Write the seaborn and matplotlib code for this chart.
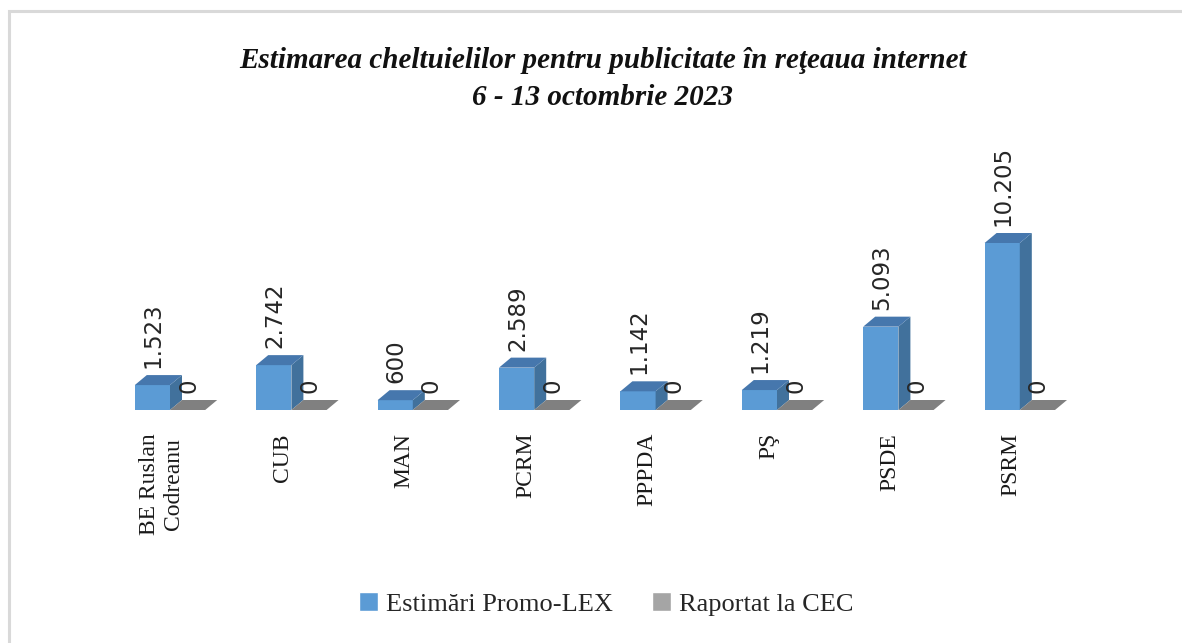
import pandas as pd
import matplotlib.pyplot as plt
from matplotlib.patches import Polygon, Rectangle, Patch
import seaborn as sns

# chart data
parties = ["BE Ruslan\nCodreanu", "CUB", "MAN", "PCRM", "PPPDA", "PŞ", "PSDE", "PSRM"]
estimari = [1523, 2742, 600, 2589, 1142, 1219, 5093, 10205]
raportat = [0, 0, 0, 0, 0, 0, 0, 0]
series = ["Estimări Promo-LEX", "Raportat la CEC"]
title = "Estimarea cheltuielilor pentru publicitate în reţeaua internet\n6 - 13 octombrie 2023"

front = {"blue": "#5B9BD5", "grey": "#A5A5A5"}
side = {"blue": "#41719C", "grey": "#7F7F7F"}
top = {"blue": "#4677AD", "grey": "#808080"}

df = pd.DataFrame({
    "party": parties * 2,
    "value": estimari + raportat,
    "series": [series[0]] * len(parties) + [series[1]] * len(parties),
})

sns.set_theme(style="white")
plt.rcParams["font.family"] = ["DejaVu Sans"]

W, H = 1182, 643
fig = plt.figure(figsize=(W / 100, H / 100), dpi=100)
ax = fig.add_axes([0, 0, 1, 1])

sns.barplot(data=df, x="party", y="value", hue="series", width=0.58,
            palette=[front["blue"], front["grey"]], ax=ax, legend=False,
            saturation=1, linewidth=0, err_kws={"linewidth": 0})

# pixel mapping: category spacing ~121.4 px, baseline at y=410 px
px_x = 121.4
k = 167 / 10205  # px per unit
ax.set_xlim(-170 / px_x, (W - 170) / px_x)
ax.set_ylim(-(H - 410) / k, 410 / k)
ax.axis("off")

dx = 12 / px_x
dy = 10 / k

for p in list(ax.patches):
    x0, w, h = p.get_x(), p.get_width(), p.get_height()
    fc = p.get_facecolor()
    key = "blue" if fc[2] > fc[0] + 0.1 else "grey"
    x1 = x0 + w
    if h > 0:
        ax.add_patch(Polygon([(x1, 0), (x1, h), (x1 + dx, h + dy), (x1 + dx, dy)],
                             closed=True, facecolor=side[key], edgecolor="none"))
    ax.add_patch(Polygon([(x0, h), (x1, h), (x1 + dx, h + dy), (x0 + dx, h + dy)],
                         closed=True, facecolor=top[key], edgecolor="none"))
    label = f"{int(round(h)):,}".replace(",", ".")
    ax.text(x0 + w / 2 + 1 / px_x, h + 17 / k, label, rotation=90, ha="center", va="bottom",
            fontsize=16.5, color="#262626")

for i, name in enumerate(parties):
    ax.text(i - 0.07, -23 / k, name, rotation=90, ha="center", va="top",
            fontsize=17, family=["Liberation Serif", "DejaVu Serif"], color="#1a1a1a")

fig.text(0.510, 1 - 79 / H, title, ha="center", va="center", fontsize=21,
         fontweight="bold", fontstyle="italic", family=["Liberation Serif", "DejaVu Serif"],
         linespacing=1.45, color="#111111")

handles = [Patch(facecolor=front["blue"]), Patch(facecolor=front["grey"])]
fig.legend(handles, series, loc="center", bbox_to_anchor=(0.513, 1 - 604 / H), ncol=2,
           frameon=False, handlelength=0.7, handleheight=0.7, handletextpad=0.3,
           columnspacing=1.5, prop={"family": ["Liberation Serif"], "size": 19})

fig.patches.append(Rectangle((9.5 / W, -0.1), 2, 1 - 11.5 / H + 0.1, transform=fig.transFigure,
                             fill=False, edgecolor="#D9D9D9", linewidth=2.2))

fig.savefig("out.png", dpi=100)
